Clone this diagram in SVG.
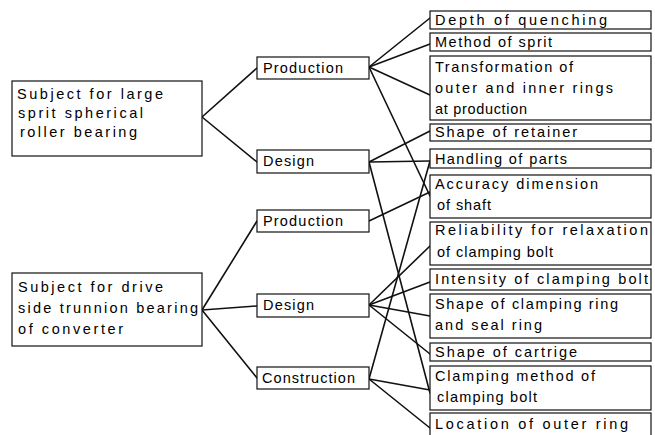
<svg xmlns="http://www.w3.org/2000/svg" width="655" height="435" viewBox="0 0 655 435">
<style>
rect{fill:#fff;stroke:#111;stroke-width:1.2}
text{font-family:"Liberation Sans",Arial,sans-serif;font-size:14.5px;fill:#000}
#connectors line{stroke:#111;stroke-width:1.6;stroke-linecap:round}
</style>
<rect x="0" y="0" width="655" height="435" style="fill:#fff;stroke:none"/>
<g id="connectors">
<line x1="202" y1="117" x2="257" y2="68"/>
<line x1="202" y1="117" x2="257" y2="162"/>
<line x1="202" y1="310" x2="257" y2="221"/>
<line x1="202" y1="310" x2="257" y2="306"/>
<line x1="202" y1="310" x2="257" y2="378"/>
<line x1="369" y1="67" x2="430" y2="18"/>
<line x1="369" y1="67" x2="430" y2="44"/>
<line x1="369" y1="67" x2="430" y2="95"/>
<line x1="369" y1="67" x2="430" y2="196"/>
<line x1="369" y1="162" x2="430" y2="131"/>
<line x1="369" y1="162" x2="430" y2="161"/>
<line x1="369" y1="162" x2="430" y2="393"/>
<line x1="369" y1="221" x2="430" y2="192"/>
<line x1="369" y1="305" x2="430" y2="246"/>
<line x1="369" y1="305" x2="430" y2="282"/>
<line x1="369" y1="305" x2="430" y2="316"/>
<line x1="369" y1="305" x2="430" y2="354"/>
<line x1="369" y1="379" x2="430" y2="161"/>
<line x1="369" y1="379" x2="430" y2="390"/>
<line x1="369" y1="379" x2="430" y2="428"/>
</g>
<g id="subject-large">
<rect x="12" y="81" width="190" height="75"/>
<text x="17" y="99" textLength="146" lengthAdjust="spacing">Subject for large</text>
<text x="18" y="118" textLength="125" lengthAdjust="spacing">sprit spherical</text>
<text x="20" y="137" textLength="117" lengthAdjust="spacing">roller bearing</text>
</g>
<g id="subject-drive">
<rect x="12" y="273" width="190" height="73"/>
<text x="18" y="292" textLength="145" lengthAdjust="spacing">Subject for drive</text>
<text x="18" y="313" textLength="180" lengthAdjust="spacing">side trunnion bearing</text>
<text x="18" y="334" textLength="105" lengthAdjust="spacing">of converter</text>
</g>
<g id="production-1"><rect x="257" y="57" width="112" height="22"/><text x="263" y="73" textLength="80" lengthAdjust="spacing">Production</text></g>
<g id="design-1"><rect x="257" y="150" width="112" height="23"/><text x="263" y="166" textLength="51" lengthAdjust="spacing">Design</text></g>
<g id="production-2"><rect x="257" y="210" width="112" height="22"/><text x="263" y="226" textLength="80" lengthAdjust="spacing">Production</text></g>
<g id="design-2"><rect x="257" y="294" width="112" height="23"/><text x="263" y="310" textLength="51" lengthAdjust="spacing">Design</text></g>
<g id="construction"><rect x="257" y="367" width="112" height="22"/><text x="262" y="383" textLength="93" lengthAdjust="spacing">Construction</text></g>
<g id="depth"><rect x="430" y="11" width="221" height="18"/><text x="435" y="25" textLength="172" lengthAdjust="spacing">Depth of quenching</text></g>
<g id="method"><rect x="430" y="33" width="221" height="18"/><text x="435" y="47" textLength="117" lengthAdjust="spacing">Method of sprit</text></g>
<g id="transformation"><rect x="430" y="56" width="221" height="64"/>
<text x="435" y="72" textLength="138" lengthAdjust="spacing">Transformation of</text>
<text x="435" y="93" textLength="178" lengthAdjust="spacing">outer and inner rings</text>
<text x="435" y="114" textLength="92" lengthAdjust="spacing">at production</text></g>
<g id="retainer"><rect x="430" y="124" width="221" height="17"/><text x="435" y="137" textLength="142" lengthAdjust="spacing">Shape of retainer</text></g>
<g id="handling"><rect x="430" y="149" width="221" height="19"/><text x="435" y="164" textLength="132" lengthAdjust="spacing">Handling of parts</text></g>
<g id="accuracy"><rect x="430" y="175" width="221" height="43"/>
<text x="435" y="189" textLength="163" lengthAdjust="spacing">Accuracy dimension</text>
<text x="437" y="210" textLength="54" lengthAdjust="spacing">of shaft</text></g>
<g id="reliability"><rect x="430" y="222" width="221" height="43"/>
<text x="435" y="235" textLength="213" lengthAdjust="spacing">Reliability for relaxation</text>
<text x="437" y="257" textLength="116" lengthAdjust="spacing">of clamping bolt</text></g>
<g id="intensity"><rect x="430" y="269" width="221" height="21"/><text x="435" y="284" textLength="213" lengthAdjust="spacing">Intensity of clamping bolt</text></g>
<g id="clamping-ring"><rect x="430" y="294" width="221" height="44"/>
<text x="435" y="309" textLength="183" lengthAdjust="spacing">Shape of clamping ring</text>
<text x="435" y="330" textLength="107" lengthAdjust="spacing">and seal ring</text></g>
<g id="cartrige"><rect x="430" y="343" width="221" height="18"/><text x="435" y="357" textLength="142" lengthAdjust="spacing">Shape of cartrige</text></g>
<g id="clamping-method"><rect x="430" y="366" width="221" height="44"/>
<text x="435" y="381" textLength="160" lengthAdjust="spacing">Clamping method of</text>
<text x="437" y="402" textLength="100" lengthAdjust="spacing">clamping bolt</text></g>
<g id="location"><rect x="430" y="413" width="221" height="30"/><text x="435" y="429" textLength="193" lengthAdjust="spacing">Location of outer ring</text></g>
</svg>
